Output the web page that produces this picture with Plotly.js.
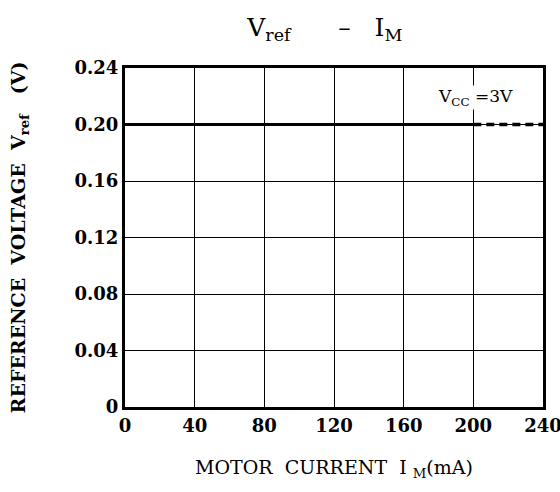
<!DOCTYPE html>
<html><head><meta charset="utf-8">
<script src="https://cdn.plot.ly/plotly-3.0.1.min.js"></script>
<style>body{margin:0;background:#fff}#c{width:560px;height:492px}</style>
</head><body><div id="c"></div>
<script>
var solidX = [0, 200];
var solidY = [0.20, 0.20];
var dashX = [200, 240];
var dashY = [0.20, 0.20];
var xTicks = [0, 40, 80, 120, 160, 200, 240];
var yTicks = [0, 0.04, 0.08, 0.12, 0.16, 0.20, 0.24];
var yTickText = ['0', '0.04', '0.08', '0.12', '0.16', '0.20', '0.24'];

var F = 'DejaVu Serif';
var data = [
  {x: solidX, y: solidY, mode: 'lines', line: {color: '#000', width: 3}, hoverinfo: 'skip'},
  {x: dashX, y: dashY, mode: 'lines', line: {color: '#000', width: 3.5, dash: '8px,5px'}, hoverinfo: 'skip'}
];
var layout = {
  width: 560, height: 492,
  margin: {l: 125, r: 17, t: 68, b: 85},
  showlegend: false,
  paper_bgcolor: '#fff', plot_bgcolor: '#fff',
  font: {family: F, color: '#000', size: 15},
  title: {text: 'V<sub>ref</sub>      –   I<sub>M</sub>', x: 0.58, xanchor: 'center', y: 0.962, font: {size: 25, family: F}},
  xaxis: {
    range: [0, 240], tickvals: xTicks, ticktext: xTicks.map(function(v){return '<b>' + v + '</b>';}),
    ticklabeloverflow: 'allow',
    showgrid: true, gridcolor: '#000', gridwidth: 1,
    showline: true, linecolor: '#000', linewidth: 3, mirror: true,
    zeroline: false, ticks: '', tickfont: {size: 18, family: F},
    title: {text: 'MOTOR  CURRENT  I <sub>M</sub>(mA)', standoff: 27, font: {size: 19, family: F}}
  },
  yaxis: {
    range: [0, 0.24], tickvals: yTicks, ticktext: yTickText.map(function(v){return '<b>' + v + '</b>';}),
    showgrid: true, gridcolor: '#000', gridwidth: 1,
    showline: true, linecolor: '#000', linewidth: 3, mirror: true,
    zeroline: false, ticks: '', tickfont: {size: 18, family: F},
    title: {text: '<b>REFERENCE  VOLTAGE  V<sub>ref</sub>   (V)</b>', standoff: 44, font: {size: 19, family: F}}
  },
  annotations: [{
    x: 201, y: 0.219, xref: 'x', yref: 'y', text: 'V<sub>CC</sub> =3V', showarrow: false,
    font: {size: 17, family: F}, bgcolor: '#fff', borderpad: 0
  }]
};
Plotly.newPlot('c', data, layout, {displayModeBar: false, staticPlot: true});
</script></body></html>
